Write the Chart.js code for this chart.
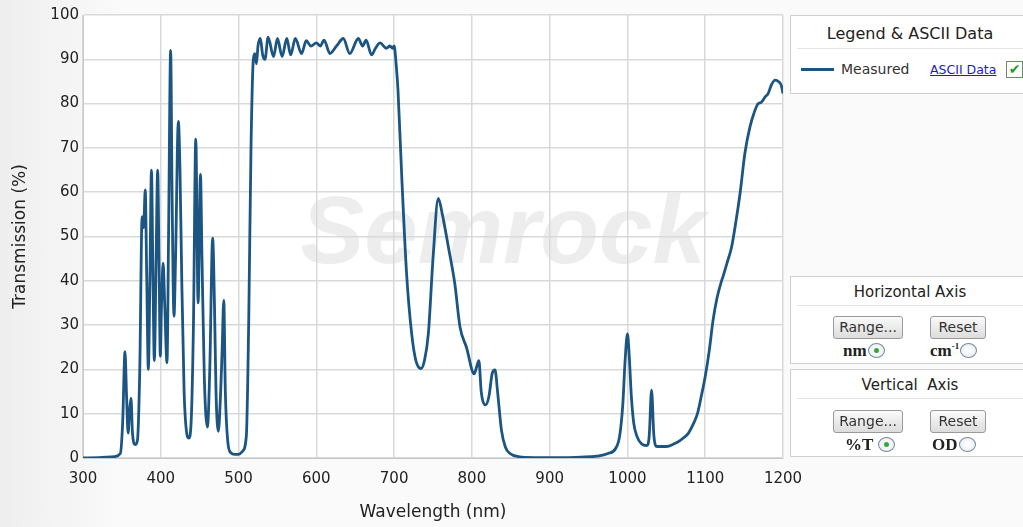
<!DOCTYPE html>
<html>
<head>
<meta charset="utf-8">
<script src="https://cdn.jsdelivr.net/npm/chart.js@4/dist/chart.umd.min.js"></script>
<style>
    body { margin: 0; width: 1023px; height: 527px; overflow: hidden; background: linear-gradient(to right, #eeeeee, #fafafa 12%, #fafafa); font-family: "DejaVu Sans", Verdana, sans-serif; position: relative; }
    #chart { position: absolute; left: 0; top: 0; }
    .panel { position: absolute; left: 790px; width: 240px; background: #fff; border: 1px solid #cfcfcf; box-sizing: border-box; }
    .panel .ttl { text-align: center; color: #222; border-bottom: 1px solid #e4e4e4; margin: 0 6px; }
    .btn { position: absolute; height: 23px; border: 1px solid #9a9a9a; border-radius: 3px; background: linear-gradient(#fafafa, #dcdcdc); font-size: 14px; color: #333; line-height: 21px; text-align: center; box-sizing: border-box; }
    .rad { position: absolute; font-family: "Liberation Serif", serif; font-weight: bold; font-size: 17px; color: #222; white-space: nowrap; }
    .dot { display: inline-block; width: 17px; height: 15px; border: 1px solid #7a8a9a; border-radius: 50%; vertical-align: -2px; margin-left: 1px; background: radial-gradient(#fff, #e4ebf1); position: relative; box-sizing: border-box; }
    .dot.on::after { content: ""; position: absolute; left: 5px; top: 4px; width: 5px; height: 5px; border-radius: 50%; background: #3aa63a; }
</style>
</head>
<body>
<canvas id="chart" width="1023" height="527"></canvas>

<div class="panel" style="top:15px;height:79px;">
    <div class="ttl" style="font-size:16px;padding:8px 0 5px 0;">Legend &amp; ASCII Data</div>
    <div style="position:absolute;left:10px;top:52px;width:33px;height:3px;background:#1d5582;"></div>
    <div style="position:absolute;left:50px;top:45px;font-size:14px;color:#333;">Measured</div>
    <div style="position:absolute;left:139px;top:46px;font-size:12.5px;color:#1a1ad0;text-decoration:underline;">ASCII Data</div>
    <div style="position:absolute;left:215px;top:45px;width:15px;height:15px;border:1px solid #6a8a6a;background:#fff;color:#2a9a2a;font-size:14px;line-height:14px;text-align:center;font-weight:bold;">&#10004;</div>
</div>

<div class="panel" style="top:276px;height:88px;">
    <div class="ttl" style="font-size:15px;padding:6px 0 4px 0;">Horizontal Axis</div>
    <div class="btn" style="left:42px;top:39px;width:70px;">Range...</div>
    <div class="btn" style="left:139px;top:39px;width:56px;">Reset</div>
    <div class="rad" style="left:52px;top:64px;">nm<span class="dot on"></span></div>
    <div class="rad" style="left:139px;top:64px;">cm<sup style="font-size:9px;">-1</sup><span class="dot"></span></div>
</div>

<div class="panel" style="top:369px;height:88px;">
    <div class="ttl" style="font-size:15px;padding:6px 0 4px 0;">Vertical&nbsp; Axis</div>
    <div class="btn" style="left:42px;top:40px;width:70px;">Range...</div>
    <div class="btn" style="left:139px;top:40px;width:56px;">Reset</div>
    <div class="rad" style="left:54px;top:65px;">%T <span class="dot on"></span></div>
    <div class="rad" style="left:141px;top:65px;">OD<span class="dot"></span></div>
</div>

<script>
// measured transmission curve
const wavelengths = [
    300, 320, 340, 348, 351, 354, 356, 358, 360, 361.7, 363.5, 367, 370, 373, 376, 378, 380, 382, 384, 386,
    388, 390, 391.7, 394, 396, 398, 399.4, 401, 403, 405, 408, 410, 412.7, 414.5, 417, 419, 422.6, 424.7, 427, 430,
    433, 436, 439, 442, 445, 448, 451, 453, 456, 460, 463, 466.7, 469, 471, 474, 477, 479, 481, 483, 486,
    490, 495, 500, 505, 510, 513, 516, 519, 521, 523, 525, 528, 531, 534, 538, 545, 550, 556, 562, 567,
    573, 581, 587, 593, 600, 605, 610, 617.5, 626, 634.7, 643, 654, 659.5, 664, 671, 676, 682, 690, 694.7, 698,
    700, 703, 705, 709.7, 716, 722.6, 728, 734.6, 739, 744, 750, 756.8, 762, 769.7, 778, 784.7, 793, 803, 806, 809,
    812, 817.7, 822, 826, 829.7, 833, 838, 843, 849, 860, 880, 900, 920, 940, 960, 975, 985, 990, 994, 997,
    1000, 1002, 1005, 1008, 1012, 1018, 1025, 1028, 1031, 1034, 1038, 1050, 1060, 1068, 1078, 1085, 1090, 1095, 1100, 1105,
    1110, 1115, 1121, 1123, 1128, 1134, 1140, 1145, 1151, 1157.6, 1163, 1168, 1172, 1177, 1181, 1185, 1190, 1194, 1198, 1200
];
const transmission = [
    0, 0.1, 0.3, 1, 8, 24, 14, 5.6, 11, 13.5, 6, 3, 4, 20, 54.5, 52, 60.5, 40, 20, 40,
    65, 40, 22, 45, 65, 40, 23, 35, 44, 35, 21.5, 50, 92, 60, 32, 45, 76, 65, 40, 15,
    6, 4.5, 8, 30, 72, 35, 64, 45, 18, 7, 20, 49.6, 35, 15, 6, 15, 25, 35.6, 15, 4,
    1.2, 0.8, 0.8, 1.5, 5, 30, 70, 90, 91.3, 89, 93, 94.7, 91, 90, 95, 90.6, 94.7, 90.6, 94.7, 91,
    94.7, 91.3, 94.2, 93, 93.7, 93, 94.3, 91.3, 93, 94.7, 91.3, 94.7, 93, 94.3, 91, 92.5, 93.7, 92.5, 93, 92.5,
    93, 88, 83, 64, 41.7, 28, 22, 20.2, 22, 28, 45, 58.6, 55, 47.7, 39.4, 29.6, 25, 19, 20.5, 22,
    15, 12, 14, 19, 19.9, 15, 6.3, 2.5, 1, 0.3, 0.1, 0.1, 0.1, 0.2, 0.4, 1, 2.2, 5, 12, 22,
    28, 24, 14, 8, 5, 3.2, 2.8, 5, 15.3, 5, 2.6, 2.6, 3.2, 4, 5.5, 7.8, 10, 14, 18.4, 24,
    31, 36, 40, 41, 44, 47.7, 54, 60, 68.8, 74.8, 78, 80, 80.3, 81.5, 82.3, 84.2, 85.3, 85, 84, 82.3
];
const xTicks = [300, 400, 500, 600, 700, 800, 900, 1000, 1100, 1200];
const yTicks = [0, 10, 20, 30, 40, 50, 60, 70, 80, 90, 100];

const points = wavelengths.map((w, i) => ({ x: w, y: transmission[i] }));
const FONT = '"DejaVu Sans", Verdana, sans-serif';

// white plot background + faint watermark
const plotBg = {
    id: 'plotBg',
    beforeDraw(chart) {
        const { ctx, chartArea: a } = chart;
        ctx.save();
        ctx.fillStyle = '#ffffff';
        ctx.fillRect(a.left, a.top, a.right - a.left, a.bottom - a.top);
        ctx.font = 'italic bold 96px "Liberation Sans", Arial, sans-serif';
        ctx.fillStyle = 'rgba(185,185,185,0.26)';
        ctx.textAlign = 'center';
        ctx.textBaseline = 'middle';
        ctx.fillText('Semrock', 503, 237);
        ctx.restore();
    }
};

new Chart(document.getElementById('chart'), {
    type: 'line',
    data: {
        datasets: [{
            label: 'Measured',
            data: points,
            borderColor: '#1d5582',
            borderWidth: 2.8,
            pointRadius: 0,
            cubicInterpolationMode: 'monotone',
            fill: false
        }]
    },
    options: {
        responsive: false,
        animation: false,
        layout: { padding: { top: 15, right: 240, left: 0, bottom: 0 } },
        plugins: {
            legend: { display: false },
            tooltip: { enabled: false }
        },
        scales: {
            x: {
                type: 'linear',
                min: 300,
                max: 1200,
                afterBuildTicks: (scale) => { scale.ticks = xTicks.map(v => ({ value: v })); },
                afterFit: (scale) => { scale.height = 69; },
                grid: { color: '#d9d9d9', lineWidth: 1.5, drawTicks: false },
                border: { color: '#c8c8c8' },
                ticks: { color: '#222', font: { size: 15, family: FONT }, padding: 12, callback: (v) => String(v) },
                title: { display: true, text: 'Wavelength (nm)', color: '#222', font: { size: 17, family: FONT }, padding: { top: 4, bottom: 4 } }
            },
            y: {
                min: 0,
                max: 100,
                afterBuildTicks: (scale) => { scale.ticks = yTicks.map(v => ({ value: v })); },
                afterFit: (scale) => { scale.width = 83; },
                grid: { color: '#d9d9d9', lineWidth: 1.5, drawTicks: false },
                border: { color: '#c8c8c8' },
                ticks: { color: '#222', font: { size: 15, family: FONT }, padding: 4, callback: (v) => String(v) },
                title: { display: true, text: 'Transmission (%)', color: '#222', font: { size: 17, family: FONT }, padding: { top: 10, bottom: 0 } }
            }
        }
    },
    plugins: [plotBg]
});
</script>
</body>
</html>
